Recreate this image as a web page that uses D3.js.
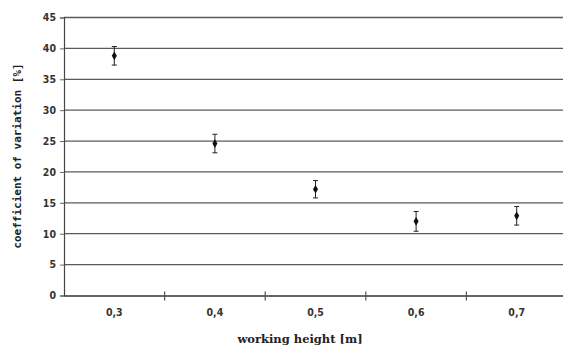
<!DOCTYPE html>
<html>
<head>
<meta charset="utf-8">
<script src="https://cdn.jsdelivr.net/npm/d3@7"></script>
<style>
  body { margin: 0; background: #fff; }
  svg { display: block; }
</style>
</head>
<body>
<svg id="chart" width="563" height="349"></svg>
<script>
// data
var heights = ["0,3", "0,4", "0,5", "0,6", "0,7"];
var cvValues = [38.8, 24.6, 17.2, 12.0, 12.9];
var cvErrors = [1.5, 1.5, 1.4, 1.6, 1.5];
var yTicks = [0, 5, 10, 15, 20, 25, 30, 35, 40, 45];

var svg = d3.select("#chart");
var plotLeft = 64, plotRight = 567, plotTop = 17.5, plotBottom = 295.5;

var x = d3.scaleBand().domain(heights).range([plotLeft, plotRight]);
var y = d3.scaleLinear().domain([0, 45]).range([plotBottom, plotTop]);

var points = heights.map(function (h, i) {
    return { h: h, v: cvValues[i], e: cvErrors[i] };
});

// grid lines
svg.append("g")
    .selectAll("line")
    .data(yTicks.filter(function (t) { return t > 0; }))
    .join("line")
    .attr("x1", plotLeft).attr("x2", plotRight)
    .attr("y1", function (d) { return y(d); })
    .attr("y2", function (d) { return y(d); })
    .attr("stroke", "#5a5a5a")
    .attr("stroke-width", 1.3);

// y axis
var yAxis = svg.append("g")
    .attr("transform", "translate(" + plotLeft + ",0)")
    .call(d3.axisLeft(y).tickValues(yTicks).tickSize(4).tickPadding(4));
yAxis.select(".domain").attr("stroke", "#444").attr("stroke-width", 1.2);
yAxis.selectAll(".tick line").attr("stroke", "#666");
yAxis.selectAll("text")
    .attr("font-family", "DejaVu Sans Condensed, DejaVu Sans, sans-serif")
    .attr("font-weight", "bold")
    .attr("font-size", 10.5)
    .attr("fill", "#333");

// x axis
var xAxis = svg.append("g")
    .attr("transform", "translate(0," + plotBottom + ")")
    .call(d3.axisBottom(x).tickSize(0).tickPadding(13));
xAxis.select(".domain").attr("stroke", "#333").attr("stroke-width", 1.3);
xAxis.selectAll("text")
    .attr("font-family", "DejaVu Sans Condensed, DejaVu Sans, sans-serif")
    .attr("font-weight", "bold")
    .attr("font-size", 10.5)
    .attr("fill", "#333");

// category boundary ticks
svg.append("g")
    .selectAll("line")
    .data(heights.slice(1))
    .join("line")
    .attr("x1", function (d) { return x(d); })
    .attr("x2", function (d) { return x(d); })
    .attr("y1", plotBottom - 4).attr("y2", plotBottom + 5)
    .attr("stroke", "#555")
    .attr("stroke-width", 1.2);

// error bars
var cx = function (d) { return x(d.h) + x.bandwidth() / 2; };
var bars = svg.append("g").attr("stroke", "#222").attr("stroke-width", 1);
bars.selectAll("line.v")
    .data(points)
    .join("line")
    .attr("class", "v")
    .attr("x1", cx).attr("x2", cx)
    .attr("y1", function (d) { return y(d.v + d.e); })
    .attr("y2", function (d) { return y(d.v - d.e); });
bars.selectAll("line.top")
    .data(points)
    .join("line")
    .attr("class", "top")
    .attr("x1", function (d) { return cx(d) - 2.5; })
    .attr("x2", function (d) { return cx(d) + 2.5; })
    .attr("y1", function (d) { return y(d.v + d.e); })
    .attr("y2", function (d) { return y(d.v + d.e); });
bars.selectAll("line.bot")
    .data(points)
    .join("line")
    .attr("class", "bot")
    .attr("x1", function (d) { return cx(d) - 2.5; })
    .attr("x2", function (d) { return cx(d) + 2.5; })
    .attr("y1", function (d) { return y(d.v - d.e); })
    .attr("y2", function (d) { return y(d.v - d.e); });

// markers
svg.append("g")
    .selectAll("path")
    .data(points)
    .join("path")
    .attr("d", d3.symbol(d3.symbolDiamond, 22))
    .attr("transform", function (d) {
        return "translate(" + cx(d) + "," + y(d.v) + ")";
    })
    .attr("fill", "#111");

// axis titles
svg.append("text")
    .attr("x", 300).attr("y", 343)
    .attr("text-anchor", "middle")
    .attr("font-family", "DejaVu Serif, serif")
    .attr("font-weight", "bold")
    .attr("font-size", 11.5)
    .attr("fill", "#222")
    .text("working height [m]");

svg.append("text")
    .attr("transform", "translate(21,156) rotate(-90)")
    .attr("text-anchor", "middle")
    .attr("font-family", "DejaVu Sans Mono, monospace")
    .attr("font-weight", "bold")
    .attr("font-size", 11)
    .attr("fill", "#222")
    .text("coefficient of variation [%]");
</script>
</body>
</html>
